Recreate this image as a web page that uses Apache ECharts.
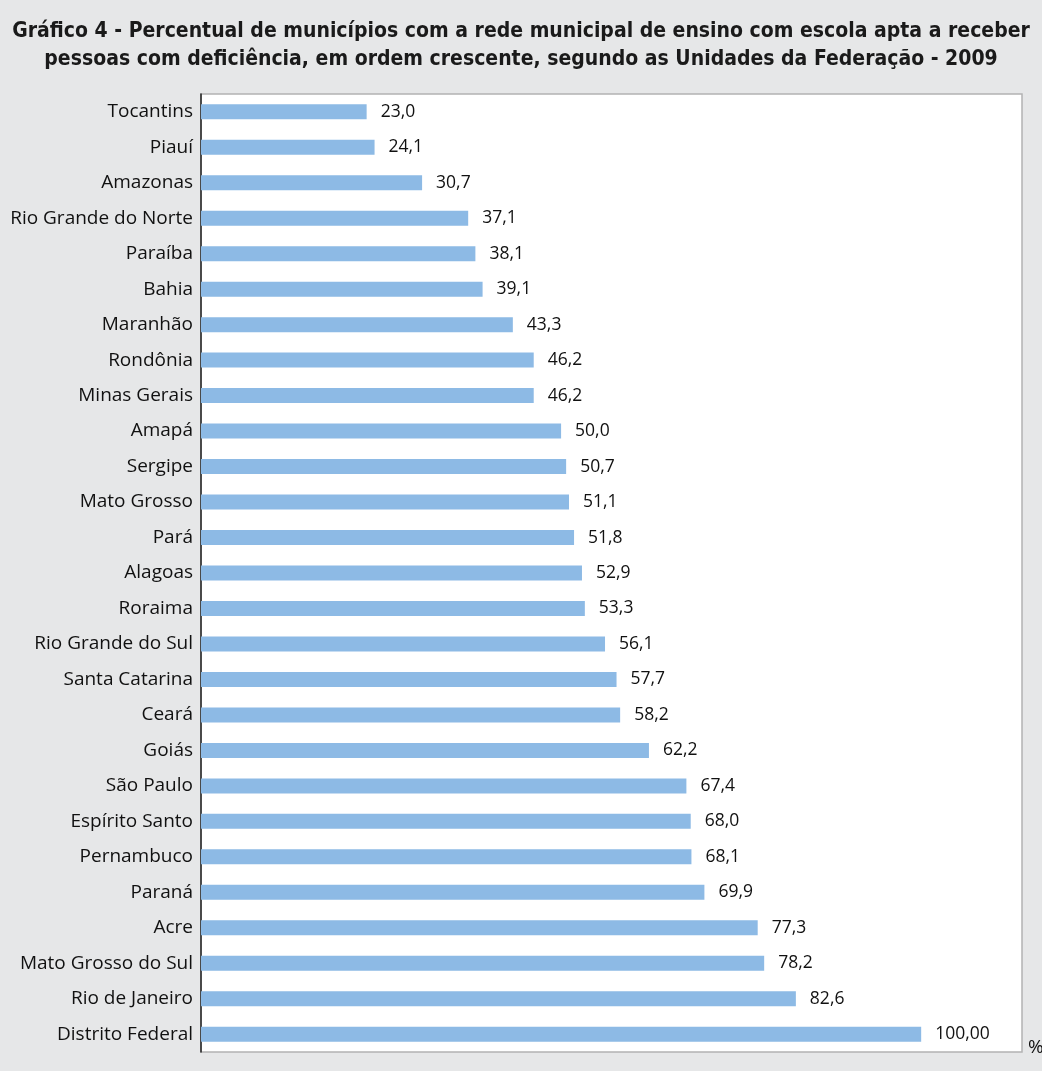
<!DOCTYPE html>
<html>
<head>
<meta charset="utf-8">
<script src="https://cdn.jsdelivr.net/npm/echarts@6/dist/echarts.min.js"></script>
<style>
  html, body { margin: 0; padding: 0; background: #e6e7e8; }
  #chart { width: 1042px; height: 1071px; }
</style>
</head>
<body>
<div id="chart"></div>
<script>
// Unidades da Federação, ordem crescente (de cima para baixo)
const estados = [
  'Tocantins', 'Piauí', 'Amazonas', 'Rio Grande do Norte', 'Paraíba', 'Bahia',
  'Maranhão', 'Rondônia', 'Minas Gerais', 'Amapá', 'Sergipe', 'Mato Grosso',
  'Pará', 'Alagoas', 'Roraima', 'Rio Grande do Sul', 'Santa Catarina', 'Ceará',
  'Goiás', 'São Paulo', 'Espírito Santo', 'Pernambuco', 'Paraná', 'Acre',
  'Mato Grosso do Sul', 'Rio de Janeiro', 'Distrito Federal'
]
const percentuais = [
  23.0, 24.1, 30.7, 37.1, 38.1, 39.1,
  43.3, 46.2, 46.2, 50.0, 50.7, 51.1,
  51.8, 52.9, 53.3, 56.1, 57.7, 58.2,
  62.2, 67.4, 68.0, 68.1, 69.9, 77.3,
  78.2, 82.6, 100.0
]

const chart = echarts.init(document.getElementById('chart'))
const fonte = '"Open Sans", "Liberation Sans", sans-serif'

const option = {
  backgroundColor: '#e6e7e8',
  animation: false,
  title: {
    text: 'Gráfico 4 - Percentual de municípios com a rede municipal de ensino com escola apta a receber\npessoas com deficiência, em ordem crescente, segundo as Unidades da Federação - 2009',
    left: 'center',
    top: 13,
    textStyle: {
      fontFamily: '"Liberation Sans Narrow", "DejaVu Sans Condensed", sans-serif',
      fontWeight: 'bold',
      fontSize: 21,
      lineHeight: 28,
      color: '#1a1a1a'
    }
  },
  grid: {
    left: 201,
    top: 94,
    right: 20,
    bottom: 19,
    show: true,
    backgroundColor: '#ffffff',
    borderColor: '#b3b3b3',
    borderWidth: 1.5
  },
  xAxis: {
    type: 'value',
    min: 0,
    max: 114,
    show: false
  },
  yAxis: {
    type: 'category',
    data: estados,
    inverse: true,
    axisLine: { lineStyle: { color: '#222', width: 1.5 } },
    axisTick: { length: 6, lineStyle: { color: '#999' } },
    axisLabel: {
      fontFamily: fonte,
      fontSize: 19,
      color: '#111',
      margin: 8
    }
  },
  series: [
    {
      type: 'bar',
      data: percentuais,
      barWidth: 15,
      itemStyle: { color: '#8dbae5' },
      label: {
        show: true,
        position: 'right',
        distance: 14,
        fontFamily: fonte,
        fontSize: 17.5,
        color: '#111',
        formatter: p => p.value === 100 ? '100,00' : p.value.toFixed(1).replace('.', ',')
      }
    }
  ],
  graphic: [
    {
      type: 'text',
      left: 1028,
      top: 1038,
      style: { text: '%', font: '19px "Open Sans", Arial', fill: '#111' }
    }
  ]
}
chart.setOption(option)
</script>
</body>
</html>
